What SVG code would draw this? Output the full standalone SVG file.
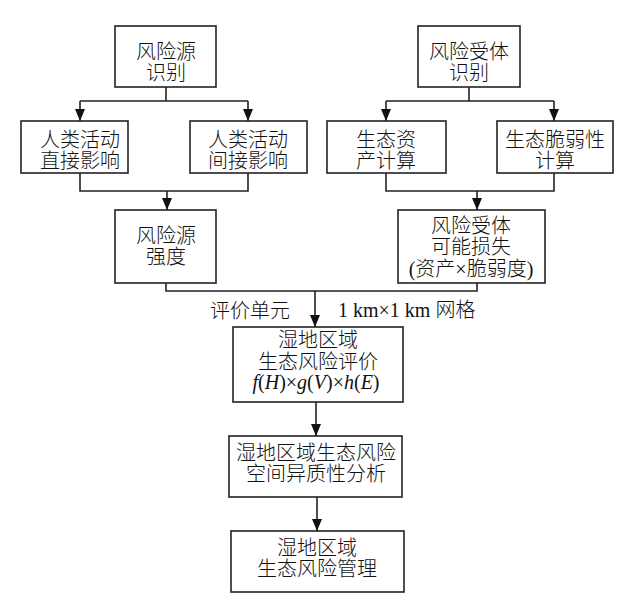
<svg xmlns="http://www.w3.org/2000/svg" width="635" height="604" viewBox="0 0 635 604">
<style>
.box{fill:#fff;stroke:#222;stroke-width:1.6}
.ln{fill:none;stroke:#222;stroke-width:1.6}
text{font-family:"Liberation Serif","Noto Sans CJK SC",serif;font-size:20px;fill:#111;text-anchor:middle}
.cjk{font-family:"Noto Sans CJK SC","Liberation Serif",sans-serif;font-weight:300}
.it{font-style:italic}
</style>
<defs>
<marker id="ar" viewBox="0 0 12 10" refX="12" refY="5" markerWidth="12" markerHeight="10" markerUnits="userSpaceOnUse" orient="auto">
<path d="M0,0 L12,5 L0,10 Z" fill="#111"/>
</marker>
</defs>
<rect width="635" height="604" fill="#fff"/>
<g id="connectors">
<path class="ln" d="M166,87 V101 M80,101 H248"/>
<path class="ln" d="M80,101 V121" marker-end="url(#ar)"/>
<path class="ln" d="M248,101 V121" marker-end="url(#ar)"/>
<path class="ln" d="M469,87 V101 M386,101 H554"/>
<path class="ln" d="M386,101 V121" marker-end="url(#ar)"/>
<path class="ln" d="M554,101 V121" marker-end="url(#ar)"/>
<path class="ln" d="M80,173 V191 H248 V173"/>
<path class="ln" d="M167,191 V210" marker-end="url(#ar)"/>
<path class="ln" d="M386,173 V191 H554 V173"/>
<path class="ln" d="M477,191 V210" marker-end="url(#ar)"/>
<path class="ln" d="M166,283 V291 H477 V283"/>
<path class="ln" d="M315,291 V327" marker-end="url(#ar)"/>
<path class="ln" d="M316,402 V436" marker-end="url(#ar)"/>
<path class="ln" d="M317,497 V531" marker-end="url(#ar)"/>
</g>
<g id="n1"><rect class="box" x="115" y="26" width="101" height="61"/>
<text class="cjk" x="166" y="59">风险源<tspan x="166" dy="21">识别</tspan></text></g>
<g id="n2"><rect class="box" x="418" y="26" width="102" height="61"/>
<text class="cjk" x="469" y="59">风险受体<tspan x="469" dy="21">识别</tspan></text></g>
<g id="n3"><rect class="box" x="21" y="121" width="107" height="52"/>
<text class="cjk" x="80" y="147">人类活动<tspan x="80" dy="21">直接影响</tspan></text></g>
<g id="n4"><rect class="box" x="190" y="121" width="117" height="52"/>
<text class="cjk" x="248" y="147">人类活动<tspan x="248" dy="21">间接影响</tspan></text></g>
<g id="n5"><rect class="box" x="327" y="121" width="119" height="52"/>
<text class="cjk" x="386" y="147">生态资<tspan x="386" dy="21">产计算</tspan></text></g>
<g id="n6"><rect class="box" x="497" y="121" width="116" height="52"/>
<text class="cjk" x="555" y="147">生态脆弱性<tspan x="555" dy="21">计算</tspan></text></g>
<g id="n7"><rect class="box" x="115" y="210" width="101" height="73"/>
<text class="cjk" x="166" y="243">风险源<tspan x="166" dy="21">强度</tspan></text></g>
<g id="n8"><rect class="box" x="398" y="210" width="147" height="73"/>
<text x="471" y="233"><tspan class="cjk">风险受体</tspan><tspan class="cjk" x="471" dy="21">可能损失</tspan><tspan x="471" dy="22">(</tspan><tspan class="cjk">资产</tspan>×<tspan class="cjk">脆弱度</tspan>)</text></g>
<g id="labels">
<text class="cjk" x="250" y="318">评价单元</text>
<text x="338" y="317" style="text-anchor:start">1 km×1 km <tspan class="cjk">网格</tspan></text>
</g>
<g id="n9"><rect class="box" x="233" y="327" width="170" height="75"/>
<text x="318" y="347"><tspan class="cjk">湿地区域</tspan><tspan class="cjk" x="318" dy="22">生态风险评价</tspan><tspan x="316" dy="20" class="it">f</tspan>(<tspan class="it">H</tspan>)×<tspan class="it">g</tspan>(<tspan class="it">V</tspan>)×<tspan class="it">h</tspan>(<tspan class="it">E</tspan>)</text></g>
<g id="n10"><rect class="box" x="229" y="436" width="173" height="61"/>
<text class="cjk" x="316" y="460">湿地区域生态风险<tspan x="316" dy="21">空间异质性分析</tspan></text></g>
<g id="n11"><rect class="box" x="231" y="531" width="173" height="61"/>
<text class="cjk" x="317" y="555">湿地区域<tspan x="317" dy="21">生态风险管理</tspan></text></g>
</svg>
